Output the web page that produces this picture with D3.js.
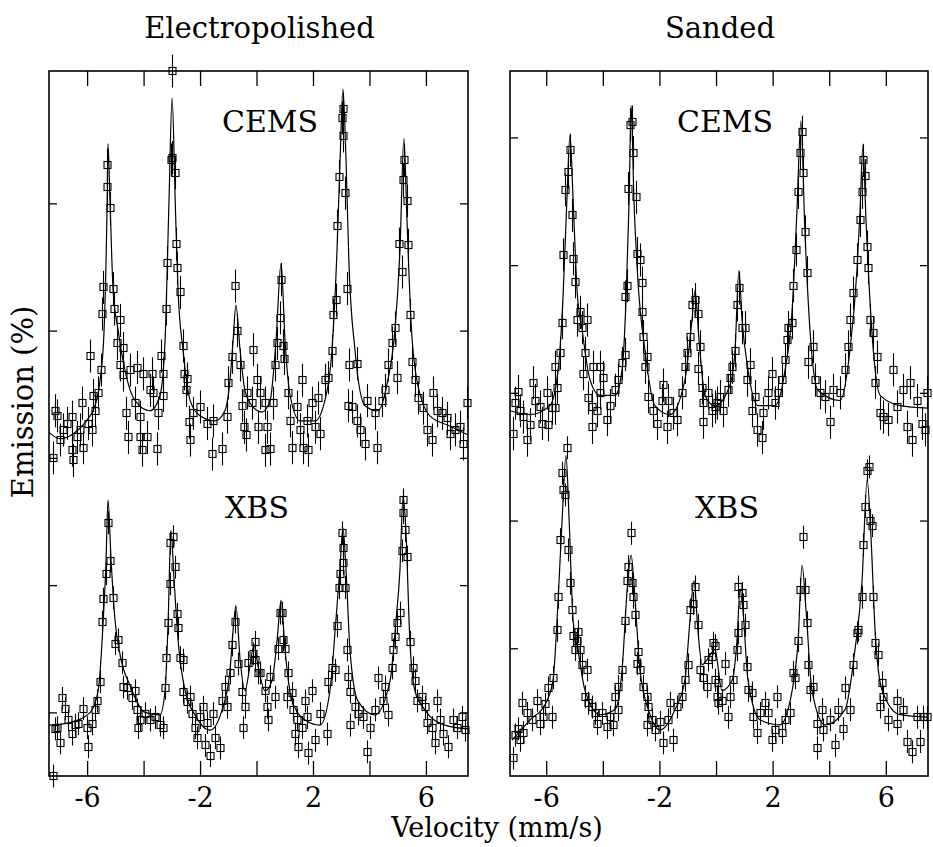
<!DOCTYPE html>
<html>
<head>
<meta charset="utf-8">
<script src="https://cdn.jsdelivr.net/npm/d3@7"></script>
<style>
    body { margin: 0; background: #fff; }
    svg text { font-family: "DejaVu Serif", serif; fill: #000; }
</style>
</head>
<body>
<div id="chart"></div>
<script>
// velocity axis
const velocityTicks = [-6, -4, -2, 0, 2, 4, 6];
const velocityLabels = [-6, -2, 2, 6];
const emissionTicks = [1, 2, 3, 4, 5];

// error bar half heights (emission units)
const cemsError = 0.13;
const xbsError = 0.09;

// Electropolished, CEMS : [velocity, emission]
const epCemsPoints = [
    [-7.20,3.00],[-7.13,3.37],[-7.06,3.33],[-6.96,3.14],[-6.85,3.22],[-6.71,3.27],[-6.53,3.32],[-6.53,3.06],
    [-6.50,2.98],[-6.35,3.16],[-6.25,3.22],[-6.18,3.43],[-6.14,3.08],[-5.96,3.27],[-5.89,3.80],[-5.82,3.22],
    [-5.79,3.49],[-5.72,3.37],[-5.61,3.51],[-5.50,3.69],[-5.47,4.13],[-5.43,4.34],[-5.29,5.30],[-5.29,5.13],
    [-5.19,4.96],[-5.08,4.33],[-5.04,4.17],[-4.94,3.90],[-4.83,4.08],[-4.83,3.73],[-4.73,3.86],[-4.73,3.65],
    [-4.62,3.35],[-4.55,3.16],[-4.48,3.69],[-4.30,3.43],[-4.23,3.71],[-4.12,3.32],[-4.12,3.16],[-4.05,3.06],
    [-4.02,3.66],[-3.88,3.16],[-3.77,3.53],[-3.70,3.66],[-3.66,3.51],[-3.52,3.07],[-3.49,3.35],[-3.38,3.80],
    [-3.31,3.66],[-3.31,3.49],[-3.20,4.17],[-3.17,4.53],[-3.03,5.34],[-2.99,5.36],[-2.99,6.04],[-2.88,5.24],
    [-2.85,4.68],[-2.81,4.49],[-2.71,4.30],[-2.60,3.88],[-2.57,3.66],[-2.46,3.62],[-2.50,3.53],[-2.39,3.28],
    [-2.35,3.14],[-2.25,3.35],[-2.00,3.40],[-1.75,3.27],[-1.58,3.03],[-1.54,3.29],[-1.22,3.07],[-1.04,3.32],
    [-1.01,3.59],[-0.87,3.79],[-0.76,4.35],[-0.69,4.00],[-0.58,3.73],[-0.51,3.41],[-0.44,3.24],[-0.37,3.18],
    [-0.34,3.51],[-0.16,3.43],[-0.12,3.85],[0.02,3.61],[0.05,3.24],[0.12,3.51],[0.30,3.43],[0.30,3.06],
    [0.37,3.24],[0.48,3.07],[0.58,3.43],[0.65,3.73],[0.73,3.90],[0.83,4.10],[0.87,4.40],[0.94,3.88],
    [0.97,3.78],[1.12,3.51],[1.19,3.29],[1.26,3.08],[1.43,3.40],[1.54,3.22],[1.61,3.61],[1.65,3.08],
    [1.79,3.29],[1.82,3.06],[1.96,3.43],[2.07,3.24],[2.18,3.47],[2.25,3.19],[2.42,3.61],[2.53,3.63],
    [2.67,3.84],[2.71,4.12],[2.81,4.24],[2.85,4.82],[2.92,5.21],[3.03,5.67],[3.06,5.74],[3.06,5.53],
    [3.13,5.08],[3.20,4.33],[3.24,3.41],[3.27,3.73],[3.38,3.40],[3.56,3.74],[3.56,3.29],[3.66,3.22],
    [3.84,3.11],[3.91,3.45],[4.19,3.35],[4.27,3.08],[4.44,3.45],[4.55,3.53],[4.65,3.73],[4.80,3.90],
    [4.90,4.02],[4.97,3.63],[5.04,4.68],[5.15,4.46],[5.19,5.18],[5.22,5.34],[5.33,5.02],[5.36,4.67],
    [5.43,4.12],[5.50,3.75],[5.61,3.61],[5.72,3.47],[5.89,3.39],[6.04,3.22],[6.21,3.14],[6.25,3.51],
    [6.39,3.37],[6.57,3.35],[6.74,3.31],[6.85,3.19],[7.03,3.22],[7.20,3.24],[7.31,3.11],[7.45,3.43]
];
const epCemsFit = [
    [-7.35,3.20],[-6.96,3.15],[-6.43,3.20],[-5.96,3.31],[-5.72,3.41],[-5.54,3.61],[-5.40,4.00],[-5.29,5.02],
    [-5.26,5.47],[-5.19,5.02],[-5.08,4.32],[-4.90,4.00],[-4.66,3.69],[-4.30,3.45],[-3.77,3.37],[-3.42,3.49],
    [-3.24,3.92],[-3.10,5.02],[-2.99,5.83],[-2.88,5.02],[-2.78,4.32],[-2.60,3.84],[-2.35,3.45],[-2.00,3.33],
    [-1.47,3.29],[-1.12,3.37],[-0.94,3.61],[-0.83,3.92],[-0.73,4.20],[-0.58,3.84],[-0.41,3.53],[-0.16,3.41],
    [0.19,3.36],[0.48,3.45],[0.69,3.92],[0.87,4.53],[1.01,3.92],[1.19,3.49],[1.54,3.29],[2.07,3.29],
    [2.42,3.45],[2.67,3.84],[2.85,4.63],[2.96,5.34],[3.06,5.90],[3.17,5.34],[3.27,4.55],[3.49,3.84],
    [3.84,3.41],[4.30,3.37],[4.65,3.61],[4.90,4.00],[5.08,4.63],[5.22,5.51],[5.33,4.86],[5.47,4.08],
    [5.68,3.61],[6.14,3.33],[6.85,3.25],[7.49,3.18]
];

// Electropolished, XBS
const epXbsPoints = [
    [-7.20,0.50],[-7.13,0.87],[-7.06,0.88],[-6.96,0.76],[-6.88,1.11],[-6.78,1.03],[-6.67,0.94],[-6.53,0.83],
    [-6.43,0.90],[-6.32,0.91],[-6.14,1.03],[-6.00,0.88],[-5.96,0.73],[-5.82,0.91],[-5.72,1.02],[-5.65,1.09],
    [-5.54,1.24],[-5.47,1.71],[-5.43,1.89],[-5.33,2.09],[-5.26,2.49],[-5.19,2.19],[-5.08,1.90],[-5.01,1.54],
    [-4.90,1.57],[-4.76,1.39],[-4.73,1.20],[-4.58,1.19],[-4.41,1.11],[-4.30,1.17],[-4.23,1.02],[-4.19,0.88],
    [-4.12,0.94],[-3.95,0.99],[-3.77,0.94],[-3.59,0.96],[-3.42,0.90],[-3.31,0.88],[-3.24,1.19],[-3.20,1.43],
    [-3.13,1.70],[-3.06,2.01],[-3.06,2.33],[-2.96,2.38],[-2.88,2.14],[-2.81,1.77],[-2.78,1.66],[-2.71,1.43],
    [-2.60,1.41],[-2.60,1.16],[-2.46,1.08],[-2.35,1.12],[-2.28,0.99],[-2.18,0.88],[-2.11,0.80],[-2.00,0.96],
    [-1.89,1.04],[-1.82,0.74],[-1.75,0.92],[-1.65,0.66],[-1.54,0.99],[-1.47,0.80],[-1.29,0.72],[-1.22,1.09],
    [-1.12,1.20],[-1.04,1.04],[-0.94,1.31],[-0.87,1.53],[-0.76,1.71],[-0.65,1.38],[-0.51,1.16],[-0.41,1.04],
    [-0.48,0.88],[-0.30,1.39],[-0.12,1.46],[-0.05,1.55],[0.05,1.31],[-0.05,1.41],[0.12,1.31],[0.30,1.17],
    [0.37,1.04],[0.41,0.94],[0.48,1.28],[0.65,1.12],[0.76,1.50],[0.83,1.78],[0.90,1.78],[0.94,1.57],
    [1.01,1.50],[1.12,1.31],[1.08,1.12],[1.26,1.15],[1.29,1.02],[1.43,0.94],[1.36,0.83],[1.47,0.73],
    [1.61,0.88],[1.72,1.09],[1.79,0.96],[1.82,0.68],[1.96,1.17],[2.07,0.78],[2.25,0.99],[2.50,0.83],
    [2.53,1.24],[2.67,1.35],[2.78,1.33],[2.85,1.68],[2.92,1.98],[2.96,2.09],[3.06,2.17],[3.06,2.29],
    [3.03,2.41],[3.13,1.98],[3.20,1.49],[3.24,1.28],[3.31,1.16],[3.31,0.90],[3.49,1.04],[3.59,0.99],
    [3.77,0.96],[3.91,0.69],[4.02,0.88],[4.19,1.02],[4.30,1.27],[4.48,1.09],[4.55,1.20],[4.65,0.98],
    [4.80,1.35],[4.83,1.49],[4.90,1.59],[4.97,1.70],[5.08,1.78],[5.15,2.27],[5.19,2.57],[5.19,2.67],
    [5.26,2.43],[5.33,2.22],[5.43,1.55],[5.54,1.35],[5.61,1.25],[5.68,1.09],[5.86,1.12],[5.96,1.04],
    [6.04,0.92],[6.21,0.88],[6.32,0.76],[6.39,1.09],[6.50,0.94],[6.60,0.83],[6.78,0.73],[6.96,0.94],
    [7.10,0.88],[7.27,0.96],[7.38,0.86]
];
const epXbsFit = [
    [-7.35,0.90],[-6.61,0.92],[-5.89,1.00],[-5.61,1.17],[-5.43,1.72],[-5.33,2.19],[-5.26,2.67],[-5.15,2.19],
    [-5.01,1.72],[-4.83,1.45],[-4.48,1.21],[-3.95,1.00],[-3.42,0.98],[-3.24,1.17],[-3.13,1.72],[-3.03,2.43],
    [-2.92,2.04],[-2.78,1.57],[-2.53,1.17],[-2.18,0.98],[-1.65,0.86],[-1.22,1.02],[-0.94,1.33],[-0.80,1.72],
    [-0.73,1.84],[-0.58,1.41],[-0.41,1.17],[-0.23,1.37],[-0.09,1.53],[0.05,1.37],[0.30,1.17],[0.55,1.25],
    [0.73,1.57],[0.87,1.88],[1.01,1.49],[1.26,1.09],[1.72,0.94],[2.25,0.90],[2.60,1.17],[2.81,1.72],
    [2.96,2.15],[3.06,2.45],[3.17,2.12],[3.31,1.49],[3.59,1.09],[4.19,0.98],[4.73,1.25],[4.94,1.72],
    [5.08,2.12],[5.19,2.70],[5.29,2.43],[5.43,1.57],[5.61,1.17],[5.96,1.02],[6.67,0.90],[7.49,0.87]
];

// Sanded, CEMS
const sdCemsPoints = [
    [-7.17,2.68],[-7.10,2.92],[-7.00,3.01],[-6.93,2.86],[-6.82,2.81],[-6.68,2.63],[-6.57,2.75],[-6.47,3.08],
    [-6.40,2.94],[-6.22,2.89],[-6.15,2.76],[-5.97,3.00],[-5.94,2.75],[-5.80,2.88],[-5.69,2.88],[-5.62,3.04],
    [-5.69,3.20],[-5.51,3.31],[-5.44,3.55],[-5.41,4.08],[-5.34,4.59],[-5.23,4.73],[-5.16,4.90],[-5.09,4.39],
    [-5.05,4.05],[-4.98,3.87],[-4.91,3.57],[-4.81,3.63],[-4.73,3.51],[-4.56,3.57],[-4.63,3.31],[-4.70,3.15],
    [-4.52,2.96],[-4.38,2.89],[-4.35,3.20],[-4.20,2.86],[-4.10,3.00],[-4.10,3.20],[-3.99,3.12],[-4.38,2.73],
    [-3.85,2.79],[-3.75,2.90],[-3.57,3.02],[-3.46,3.10],[-3.32,3.23],[-3.22,3.30],[-3.22,3.75],[-3.14,3.84],
    [-3.11,4.60],[-3.04,5.10],[-2.97,5.12],[-2.93,4.88],[-2.83,4.53],[-2.79,4.09],[-2.69,4.04],[-2.61,3.86],
    [-2.61,3.63],[-2.58,3.44],[-2.44,3.28],[-2.51,3.20],[-2.40,2.97],[-2.23,2.86],[-2.08,2.76],[-1.87,3.06],
    [-1.91,2.94],[-1.73,2.73],[-1.70,2.94],[-1.52,2.84],[-1.38,2.79],[-1.20,3.00],[-1.10,3.20],[-1.02,3.31],
    [-0.92,3.44],[-0.85,3.69],[-0.74,3.73],[-0.64,3.62],[-0.57,3.36],[-0.64,3.19],[-0.49,3.04],[-0.46,2.92],
    [-0.46,2.77],[-0.28,3.00],[-0.14,2.86],[-0.04,2.89],[0.04,2.92],[0.14,2.97],[0.25,2.86],[0.42,3.02],
    [0.49,3.12],[0.57,3.20],[0.67,3.33],[0.74,3.69],[0.81,3.82],[0.92,3.51],[1.02,3.51],[1.10,3.10],
    [1.20,3.22],[1.27,2.86],[1.38,2.97],[1.45,2.71],[1.63,2.65],[1.66,2.84],[1.84,3.00],[1.98,3.15],
    [2.08,2.92],[2.19,3.00],[2.33,3.10],[2.44,3.26],[2.51,3.41],[2.54,3.51],[2.69,3.55],[2.72,3.84],
    [2.83,4.12],[2.90,4.57],[2.97,4.88],[3.04,5.04],[3.07,4.72],[3.14,4.26],[3.22,3.94],[3.25,3.24],
    [3.43,3.36],[3.50,3.10],[3.67,3.00],[3.85,2.97],[4.03,2.77],[4.13,3.02],[4.38,3.00],[4.56,3.18],
    [4.66,3.36],[4.73,3.57],[4.84,3.78],[4.98,4.04],[5.09,4.35],[5.16,4.57],[5.19,4.82],[5.27,4.70],
    [5.34,4.14],[5.37,3.98],[5.44,3.57],[5.55,3.47],[5.69,3.28],[5.62,3.08],[5.80,2.84],[5.90,2.81],
    [6.08,2.79],[6.25,3.18],[6.40,2.89],[6.61,3.02],[6.75,2.73],[6.86,3.08],[6.93,2.63],[7.10,2.94],
    [7.28,2.76],[7.39,2.71],[7.45,3.00]
];
const sdCemsFit = [
    [-7.28,2.86],[-6.57,2.83],[-5.87,2.90],[-5.58,3.18],[-5.41,3.73],[-5.27,4.51],[-5.16,5.02],[-5.05,4.51],
    [-4.91,3.80],[-4.73,3.49],[-4.45,3.10],[-4.10,2.98],[-3.57,2.98],[-3.32,3.18],[-3.18,3.73],[-3.07,4.51],
    [-3.00,5.25],[-2.90,4.51],[-2.76,3.88],[-2.51,3.33],[-2.16,2.90],[-1.63,2.83],[-1.10,3.10],[-0.85,3.57],
    [-0.74,3.80],[-0.60,3.41],[-0.39,2.98],[-0.04,2.90],[0.49,3.06],[0.67,3.33],[0.81,3.96],[0.92,3.57],
    [1.13,3.18],[1.48,2.90],[2.08,2.90],[2.44,3.18],[2.69,3.65],[2.86,4.43],[3.00,5.13],[3.14,4.27],
    [3.32,3.49],[3.60,3.02],[4.38,2.94],[4.73,3.33],[4.98,3.96],[5.09,4.43],[5.19,4.94],[5.30,4.35],
    [5.48,3.57],[5.80,2.98],[6.50,2.90],[7.49,2.88]
];

// Sanded, XBS
const sdXbsPoints = [
    [-7.17,0.14],[-7.10,0.32],[-7.00,0.37],[-6.93,0.28],[-6.82,0.34],[-6.86,0.57],[-6.68,0.49],[-6.50,0.44],
    [-6.33,0.59],[-6.22,0.41],[-6.11,0.46],[-6.04,0.56],[-5.94,0.69],[-5.80,0.46],[-5.76,0.77],[-5.62,1.14],
    [-5.58,1.40],[-5.51,1.85],[-5.44,2.37],[-5.41,2.24],[-5.34,2.20],[-5.27,2.57],[-5.23,1.77],[-5.16,1.51],
    [-5.09,1.30],[-5.05,1.10],[-4.98,0.99],[-4.91,1.06],[-4.88,1.13],[-4.81,0.99],[-4.73,0.87],[-4.56,0.83],
    [-4.63,0.62],[-4.52,0.57],[-4.38,0.54],[-4.28,0.49],[-4.20,0.41],[-4.03,0.49],[-3.85,0.38],[-3.75,0.46],
    [-3.64,0.40],[-3.57,0.62],[-3.46,0.52],[-3.46,0.70],[-3.32,0.83],[-3.22,1.21],[-3.11,1.64],[-3.14,1.53],
    [-3.00,1.90],[-2.97,1.51],[-2.93,1.40],[-2.86,1.26],[-2.76,0.97],[-2.79,0.88],[-2.69,0.83],[-2.58,0.70],
    [-2.44,0.62],[-2.40,0.54],[-2.44,0.40],[-2.26,0.44],[-2.16,0.36],[-1.98,0.42],[-1.87,0.26],[-1.70,0.44],
    [-1.63,0.57],[-1.52,0.28],[-1.38,0.54],[-1.20,0.62],[-1.10,0.75],[-0.99,0.87],[-0.92,1.30],[-0.81,1.35],
    [-0.74,1.48],[-0.64,1.18],[-0.57,0.83],[-0.46,0.77],[-0.32,0.70],[-0.28,0.91],[-0.14,0.93],[-0.04,1.02],
    [0.07,0.73],[0.07,0.57],[-0.11,1.04],[-0.04,0.75],[0.04,0.62],[0.21,0.59],[0.32,0.88],[0.42,0.46],
    [0.49,0.62],[0.60,0.75],[0.74,0.99],[0.78,1.12],[0.78,1.48],[0.92,1.43],[0.95,1.34],[1.02,1.18],
    [1.10,0.85],[1.13,0.67],[1.27,0.65],[1.31,0.46],[1.45,0.34],[1.55,0.49],[1.73,0.57],[1.84,0.49],
    [1.98,0.28],[2.08,0.36],[2.16,0.62],[2.33,0.34],[2.44,0.44],[2.61,0.49],[2.72,0.81],[2.79,0.77],
    [2.90,1.06],[2.97,1.46],[3.07,1.87],[3.14,1.46],[3.22,1.20],[3.25,0.87],[3.32,0.67],[3.43,0.70],
    [3.57,0.41],[3.57,0.22],[3.75,0.52],[3.78,0.36],[4.03,0.44],[4.20,0.24],[4.31,0.52],[4.49,0.37],
    [4.56,0.69],[4.73,0.52],[4.84,0.87],[4.98,1.12],[5.02,1.14],[5.16,1.40],[5.19,1.81],[5.27,2.11],
    [5.34,2.39],[5.41,2.42],[5.44,2.00],[5.51,1.96],[5.55,1.40],[5.62,1.04],[5.72,0.95],[5.87,0.73],
    [5.90,0.62],[5.80,0.54],[6.08,0.44],[6.40,0.59],[6.40,0.41],[6.61,0.52],[6.75,0.27],[6.93,0.19],
    [7.10,0.46],[7.21,0.27],[7.31,0.46],[7.45,0.46]
];
const sdXbsFit = [
    [-7.21,0.28],[-6.57,0.44],[-6.04,0.56],[-5.76,0.75],[-5.58,1.38],[-5.44,2.00],[-5.30,2.51],[-5.19,2.00],
    [-5.05,1.22],[-4.88,0.99],[-4.63,0.67],[-4.10,0.48],[-3.57,0.52],[-3.32,0.83],[-3.14,1.46],[-3.00,1.73],
    [-2.86,1.38],[-2.69,0.83],[-2.33,0.48],[-1.98,0.36],[-1.45,0.52],[-1.10,0.75],[-0.92,1.22],[-0.78,1.53],
    [-0.64,1.14],[-0.49,0.87],[-0.32,0.91],[-0.04,0.99],[0.21,0.67],[0.57,0.75],[0.74,1.06],[0.85,1.46],
    [0.95,1.30],[1.13,0.75],[1.55,0.44],[2.26,0.40],[2.69,0.67],[2.90,1.06],[3.04,1.65],[3.18,1.30],
    [3.39,0.67],[3.85,0.40],[4.56,0.52],[4.91,0.99],[5.16,1.53],[5.34,2.32],[5.48,1.85],[5.62,1.14],
    [5.87,0.67],[6.50,0.48],[7.49,0.46]
];

const width = 933, height = 847;
const plotTop = 71, plotBottom = 776;

class SpectrumPanel {

    constructor(_svg, _config) {
        this.svg = _svg;
        this.config = _config;
        this.initVis();
    }

    initVis() {
        let vis = this;
        let c = vis.config;

        vis.x = d3.scaleLinear().domain(c.xDomain).range([c.left, c.right]);
        vis.y = d3.scaleLinear().domain(c.yDomain).range([plotBottom, plotTop]);

        vis.g = vis.svg.append("g");

        // title over the panel
        vis.g.append("text")
            .attr("x", (c.left + c.right) / 2 + 1)
            .attr("y", 38)
            .attr("text-anchor", "middle")
            .attr("font-size", 29)
            .text(c.title);

        // inward ticks on all four sides
        let bottomAxis = d3.axisBottom(vis.x)
            .tickValues(velocityTicks)
            .tickSize(-15)
            .tickPadding(12)
            .tickFormat(d => velocityLabels.includes(d) ? String(d) : "");
        let topAxis = d3.axisTop(vis.x).tickValues(velocityTicks).tickSize(-15).tickFormat("");
        let leftAxis = d3.axisLeft(vis.y).tickValues(emissionTicks).tickSize(-8).tickFormat("");
        let rightAxis = d3.axisRight(vis.y).tickValues(emissionTicks).tickSize(-8).tickFormat("");

        let axes = [
            [bottomAxis, `translate(0,${plotBottom})`],
            [topAxis, `translate(0,${plotTop})`],
            [leftAxis, `translate(${c.left},0)`],
            [rightAxis, `translate(${c.right},0)`]
        ];
        axes.forEach(a => {
            let ag = vis.g.append("g").attr("transform", a[1]).call(a[0]);
            ag.select(".domain").remove();
            ag.selectAll(".tick line").attr("stroke", "#000").attr("stroke-width", 1.3);
            ag.selectAll(".tick text")
                .attr("font-family", "DejaVu Serif, serif")
                .attr("font-size", 27)
                .attr("fill", "#000");
        });

        // frame
        vis.g.append("rect")
            .attr("x", c.left)
            .attr("y", plotTop)
            .attr("width", c.right - c.left)
            .attr("height", plotBottom - plotTop)
            .attr("fill", "none")
            .attr("stroke", "#000")
            .attr("stroke-width", 1.6);

        c.spectra.forEach(s => vis.drawSpectrum(s));
    }

    drawSpectrum(s) {
        let vis = this;

        // error bars
        vis.g.append("g")
            .selectAll("line")
            .data(s.points)
            .enter()
            .append("line")
            .attr("x1", d => Math.round(vis.x(d[0])) + 0.5)
            .attr("x2", d => Math.round(vis.x(d[0])) + 0.5)
            .attr("y1", d => vis.y(d[1] - s.err))
            .attr("y2", d => vis.y(d[1] + s.err))
            .attr("stroke", "#000")
            .attr("stroke-width", 1.1);

        // fitted curve
        let line = d3.line()
            .x(d => vis.x(d[0]))
            .y(d => vis.y(d[1]))
            .curve(d3.curveMonotoneX);

        vis.g.append("path")
            .datum(s.fit)
            .attr("d", line)
            .attr("fill", "none")
            .attr("stroke", "#000")
            .attr("stroke-width", 1.2);

        // data squares
        vis.g.append("g")
            .selectAll("rect")
            .data(s.points)
            .enter()
            .append("rect")
            .attr("x", d => Math.round(vis.x(d[0])) - 3)
            .attr("y", d => Math.round(vis.y(d[1])) - 3.5)
            .attr("width", 7)
            .attr("height", 7)
            .attr("fill", "none")
            .attr("stroke", "#000")
            .attr("stroke-width", 1.1);

        vis.g.append("text")
            .attr("x", s.labelX)
            .attr("y", s.labelY)
            .attr("text-anchor", "middle")
            .attr("font-size", 30)
            .text(s.label);
    }
}

let svg = d3.select("#chart").append("svg")
    .attr("width", width)
    .attr("height", height);

new SpectrumPanel(svg, {
    title: "Electropolished",
    left: 49, right: 468,
    xDomain: [-7.35, 7.49], yDomain: [0.5, 6.04],
    spectra: [
        {label: "CEMS", points: epCemsPoints, fit: epCemsFit, err: cemsError, labelX: 270, labelY: 132},
        {label: "XBS", points: epXbsPoints, fit: epXbsFit, err: xbsError, labelX: 257, labelY: 518}
    ]
});

new SpectrumPanel(svg, {
    title: "Sanded",
    left: 510, right: 928,
    xDomain: [-7.28, 7.49], yDomain: [0, 5.52],
    spectra: [
        {label: "CEMS", points: sdCemsPoints, fit: sdCemsFit, err: cemsError, labelX: 725, labelY: 132},
        {label: "XBS", points: sdXbsPoints, fit: sdXbsFit, err: xbsError, labelX: 727, labelY: 518}
    ]
});

// shared axis titles
svg.append("text")
    .attr("transform", "translate(33,402) rotate(-90)")
    .attr("text-anchor", "middle")
    .attr("font-size", 29)
    .text("Emission (%)");

svg.append("text")
    .attr("x", 497)
    .attr("y", 837)
    .attr("text-anchor", "middle")
    .attr("font-size", 27)
    .text("Velocity (mm/s)");
</script>
</body>
</html>
